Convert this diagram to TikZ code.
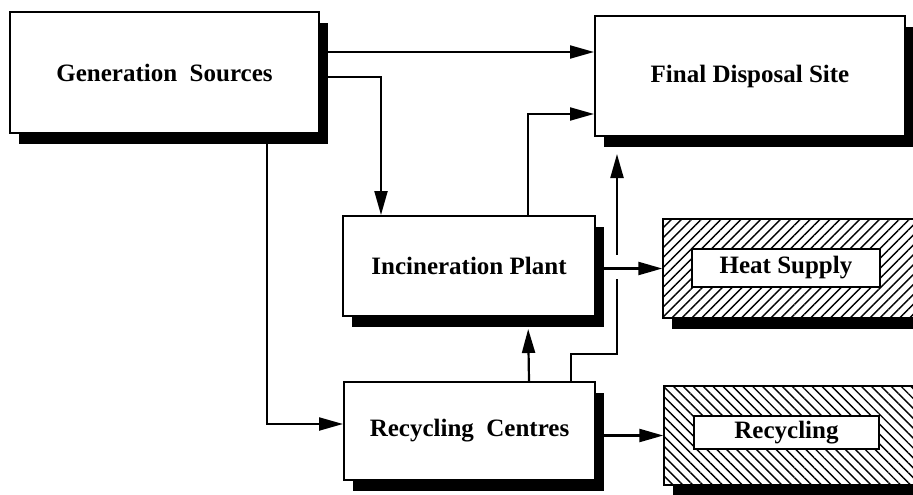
\documentclass[tikz,border=0pt]{standalone}
\usepackage{fontspec}
\setmainfont{Liberation Serif}
\usetikzlibrary{arrows.meta}
\usetikzlibrary{shadows}
\usetikzlibrary{patterns.meta}

\newcommand{\boxfont}{\bfseries\fontsize{25}{30}\selectfont}

\tikzset{
	unit/.style={draw, line width=2pt, inner sep=0pt, font=\boxfont},
	shadowed/.style={drop shadow={shadow xshift=9pt, shadow yshift=-11pt, fill=black, opacity=1}},
	stage/.style={unit, shadowed, fill=white},
	outlet/.style={unit, shadowed, preaction={fill=white},
		pattern={Lines[angle=#1, distance=7pt, line width=1.4pt]}},
	tag/.style={unit, fill=white},
	link/.style={line width=2.2pt, -{Triangle[length=24pt, width=13pt]}}
}

\begin{document}
\begin{tikzpicture}[x=1pt, y=-1pt]
	% 913 x 495, one unit per pixel, y downwards
	\clip (0,0) rectangle (913,495);
	\fill[white] (0,0) rectangle (913,495);

	% sources and sinks
	\node[stage, minimum width=309pt, minimum height=121pt] (gen) at (164.5,72.5) {Generation\ \ Sources};
	\node[stage, minimum width=310pt, minimum height=120pt] (fds) at (750,76) {Final Disposal Site};
	\node[stage, minimum width=252pt, minimum height=100pt] (inc) at (469,266) {Incineration Plant};
	\node[stage, minimum width=251pt, minimum height=98pt] (rec) at (469.5,431) {Recycling\ \ Centres};

	% hatched outlets
	\node[outlet=45, minimum width=262pt, minimum height=99pt] (heat) at (794,268.5) {};
	\node[tag, minimum width=188pt, minimum height=38pt] (heattag) at (786,268) {Heat Supply};
	\node[outlet=-45, minimum width=261pt, minimum height=99pt] (rcy) at (794.5,435.5) {};
	\node[tag, minimum width=185pt, minimum height=33pt] (rcytag) at (786.5,432.5) {Recycling};

	% flows
	\draw[link] ([yshift=-41pt]gen.north east) -- ([yshift=-37pt]fds.north west);
	\draw[link] ([yshift=-66pt]gen.north east) -| ([xshift=39pt]inc.north west);
	\draw[link] ([xshift=258pt]gen.south west) |- ([yshift=-43pt]rec.north west);
	\draw[link] ([xshift=186pt]inc.north west) |- ([yshift=-99pt]fds.north west);
	\draw[link, shorten >=12pt] ([xshift=186pt]rec.north west) -- ([xshift=186pt]inc.south west);
	\draw[link, shorten >=17pt] ([xshift=228pt]rec.north west) -- ++(0,-27) -| ([xshift=23pt]fds.south west);
	% gap where the heat line crosses
	\fill[white] ([xshift=16pt, yshift=11pt]inc.east) rectangle ++(14,24);
	\draw[link] (heat.west -| inc.east) -- (heat.west);
	\draw[link] (rcy.west -| rec.east) -- (rcy.west);
\end{tikzpicture}
\end{document}
